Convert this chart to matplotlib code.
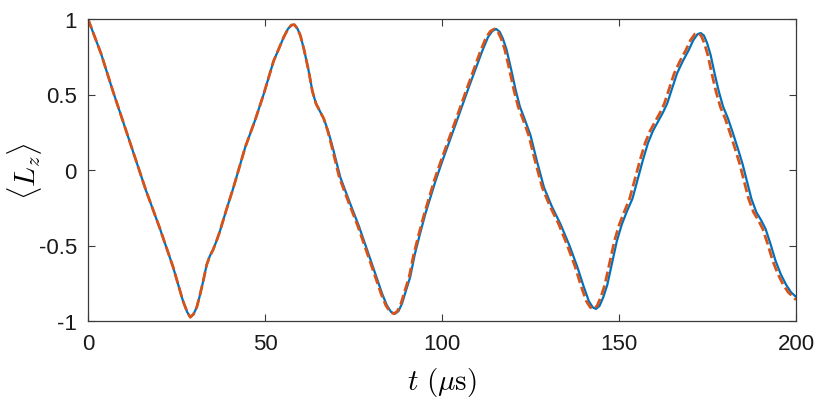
"""
<L_z> versus time: solid blue vs dashed orange comparison (MATLAB-style figure)
"""

import numpy as np
import matplotlib
matplotlib.use('Agg')
import matplotlib.pyplot as plt

# blue (solid) curve
t_blue = [0, 3.7, 7.0, 11.7, 16.4, 20.2, 24.0, 26.8, 28.0, 28.9, 29.8, 30.7,
          31.5, 32.5, 33.5, 34.4, 35.3, 36.3, 37.2, 39.0, 41.1, 44.4, 47.2,
          49.6, 52.4, 55.3, 56.5, 57.5, 58.3, 59.2, 60.0, 61.0, 62.3, 63.4,
          64.4, 65.5, 66.6, 67.8, 68.9, 71.3, 74.1, 76.5, 79.3, 83.1, 84.4,
          85.6, 86.7, 87.7, 88.7, 89.8, 91.0, 92.3, 93.7, 95.3, 98.2, 100.1,
          103.8, 107.6, 111.4, 113.0, 114.2, 115.3, 116.3, 117.2, 118.2, 119.5,
          120.8, 122.0, 123.3, 125.0, 126.8, 128.8, 131.0, 133.5, 136.0, 138.2,
          140.0, 141.5, 142.6, 143.5, 144.5, 145.6, 146.7, 148.0, 149.4, 150.8,
          152.3, 153.8, 155.3, 156.8, 158.2, 159.6, 161.0, 162.4, 163.6, 165.0,
          166.4, 168.0, 169.6, 171.0, 172.2, 173.1, 174.0, 174.9, 175.9, 177.0,
          178.2, 179.4, 180.8, 182.1, 183.6, 184.9, 186.2, 187.4, 188.8, 190.1,
          191.4, 192.8, 194.2, 195.7, 197.2, 198.6, 200.0]
lz_blue = [1.0, 0.77, 0.525, 0.194, -0.137, -0.38, -0.64, -0.865, -0.94, -0.975,
           -0.955, -0.91, -0.84, -0.74, -0.63, -0.57, -0.53, -0.47, -0.41, -0.27,
           -0.115, 0.15, 0.33, 0.50, 0.72, 0.88, 0.935, 0.96, 0.962, 0.935, 0.89,
           0.80, 0.66, 0.52, 0.44, 0.39, 0.34, 0.26, 0.17, -0.05, -0.225, -0.37,
           -0.56, -0.82, -0.895, -0.94, -0.952, -0.935, -0.885, -0.80, -0.71,
           -0.56, -0.43, -0.29, -0.07, 0.06, 0.30, 0.55, 0.79, 0.88, 0.92, 0.934,
           0.915, 0.87, 0.80, 0.67, 0.53, 0.42, 0.34, 0.23, 0.06, -0.115, -0.24,
           -0.36, -0.50, -0.64, -0.77, -0.87, -0.91, -0.92, -0.90, -0.84, -0.76,
           -0.62, -0.47, -0.36, -0.27, -0.19, -0.06, 0.07, 0.18, 0.26, 0.32, 0.38,
           0.44, 0.54, 0.64, 0.72, 0.79, 0.86, 0.90, 0.907, 0.89, 0.84, 0.76,
           0.64, 0.52, 0.42, 0.34, 0.25, 0.14, 0.04, -0.08, -0.19, -0.28, -0.33,
           -0.39, -0.49, -0.60, -0.69, -0.76, -0.81, -0.84]

# orange (dashed) curve: same up to ~68, then running slightly ahead of the blue one
t_orange = [0, 3.7, 7.0, 11.7, 16.4, 20.2, 24.0, 26.8, 28.0, 28.9, 29.8, 30.7,
            31.5, 32.5, 33.5, 34.4, 35.3, 36.3, 37.2, 39.0, 41.1, 44.4, 47.2,
            49.6, 52.4, 55.3, 56.5, 57.5, 58.3, 59.2, 60.0, 61.0, 62.3, 63.4,
            64.4, 65.5, 66.6, 67.7, 68.7, 71.0, 73.8, 76.2, 79.0, 82.8, 84.1,
            85.3, 86.4, 87.4, 88.4, 89.5, 90.7, 92.0, 93.4, 95.0, 97.8, 99.7,
            103.4, 107.2, 110.9, 112.5, 113.7, 114.8, 115.8, 116.7, 117.7, 119.0,
            120.3, 121.5, 122.8, 124.5, 126.3, 128.3, 130.5, 133.0, 135.4, 137.6,
            139.3, 140.8, 141.9, 142.8, 143.8, 144.9, 146.0, 147.3, 148.7, 150.1,
            151.6, 153.0, 154.5, 156.0, 157.4, 158.8, 160.2, 161.6, 162.8, 164.2,
            165.6, 167.2, 168.8, 170.2, 171.4, 172.3, 173.2, 174.1, 175.1, 176.2,
            177.4, 178.6, 180.0, 181.3, 182.8, 184.1, 185.4, 186.6, 188.0, 189.3,
            190.6, 192.0, 193.4, 194.9, 196.4, 197.8, 199.2, 200.0]
lz_orange = [1.0, 0.77, 0.525, 0.194, -0.137, -0.38, -0.64, -0.865, -0.94, -0.975,
             -0.955, -0.91, -0.84, -0.74, -0.63, -0.57, -0.53, -0.47, -0.41, -0.27,
             -0.115, 0.15, 0.33, 0.50, 0.72, 0.88, 0.935, 0.96, 0.962, 0.935, 0.89,
             0.80, 0.66, 0.52, 0.44, 0.39, 0.34, 0.26, 0.17, -0.05, -0.225, -0.37,
             -0.56, -0.82, -0.895, -0.94, -0.952, -0.935, -0.885, -0.80, -0.71,
             -0.56, -0.43, -0.29, -0.07, 0.06, 0.30, 0.55, 0.79, 0.88, 0.92, 0.934,
             0.915, 0.87, 0.80, 0.67, 0.53, 0.42, 0.34, 0.23, 0.06, -0.115, -0.24,
             -0.36, -0.50, -0.64, -0.77, -0.87, -0.91, -0.92, -0.90, -0.84, -0.76,
             -0.62, -0.47, -0.36, -0.27, -0.19, -0.06, 0.07, 0.18, 0.26, 0.32, 0.38,
             0.44, 0.54, 0.64, 0.72, 0.79, 0.86, 0.90, 0.907, 0.89, 0.84, 0.76,
             0.64, 0.52, 0.42, 0.34, 0.25, 0.14, 0.04, -0.08, -0.19, -0.28, -0.33,
             -0.39, -0.49, -0.60, -0.69, -0.76, -0.81, -0.84, -0.86]

x_ticks = [0, 50, 100, 150, 200]
y_ticks = [-1, -0.5, 0, 0.5, 1]
y_tick_labels = ['-1', '-0.5', '0', '0.5', '1']

plt.rcParams['font.family'] = ['Liberation Sans', 'DejaVu Sans']
plt.rcParams['mathtext.fontset'] = 'cm'

fig = plt.figure(figsize=(8.3, 4.1), dpi=100)
ax = fig.add_axes([88 / 830, 1 - 322 / 410, 708 / 830, 302 / 410])

ax.plot(t_blue, lz_blue, color='#0072BD', linewidth=1.6,
        solid_joinstyle='round', solid_capstyle='round')
ax.plot(t_orange, lz_orange, color='#D95319', linewidth=2.0, dashes=(3.6, 1.5),
        dash_joinstyle='round')

ax.set_xlim(0, 200)
ax.set_ylim(-1, 1)
ax.set_xticks(x_ticks)
ax.set_xticklabels([str(v) for v in x_ticks])
ax.set_yticks(y_ticks)
ax.set_yticklabels(y_tick_labels)

frame = '#3a3a3a'
for sp in ax.spines.values():
    sp.set_color(frame)
    sp.set_linewidth(0.9)
ax.tick_params(axis='both', direction='in', length=5, width=0.8, color=frame,
               top=True, right=True, labelsize=16, labelcolor='#1a1a1a')
ax.tick_params(axis='x', pad=9)
ax.tick_params(axis='y', pad=8)

ax.set_xlabel(r'$t\ (\mu\mathrm{s})$', fontsize=21)
ax.xaxis.set_label_coords(0.5, -0.145)
ax.set_ylabel(r'$\langle L_z \rangle$', fontsize=21)
ax.yaxis.set_label_coords(-0.062, 0.5)

plt.savefig('out.png', dpi=100, facecolor='white')
plt.close()
